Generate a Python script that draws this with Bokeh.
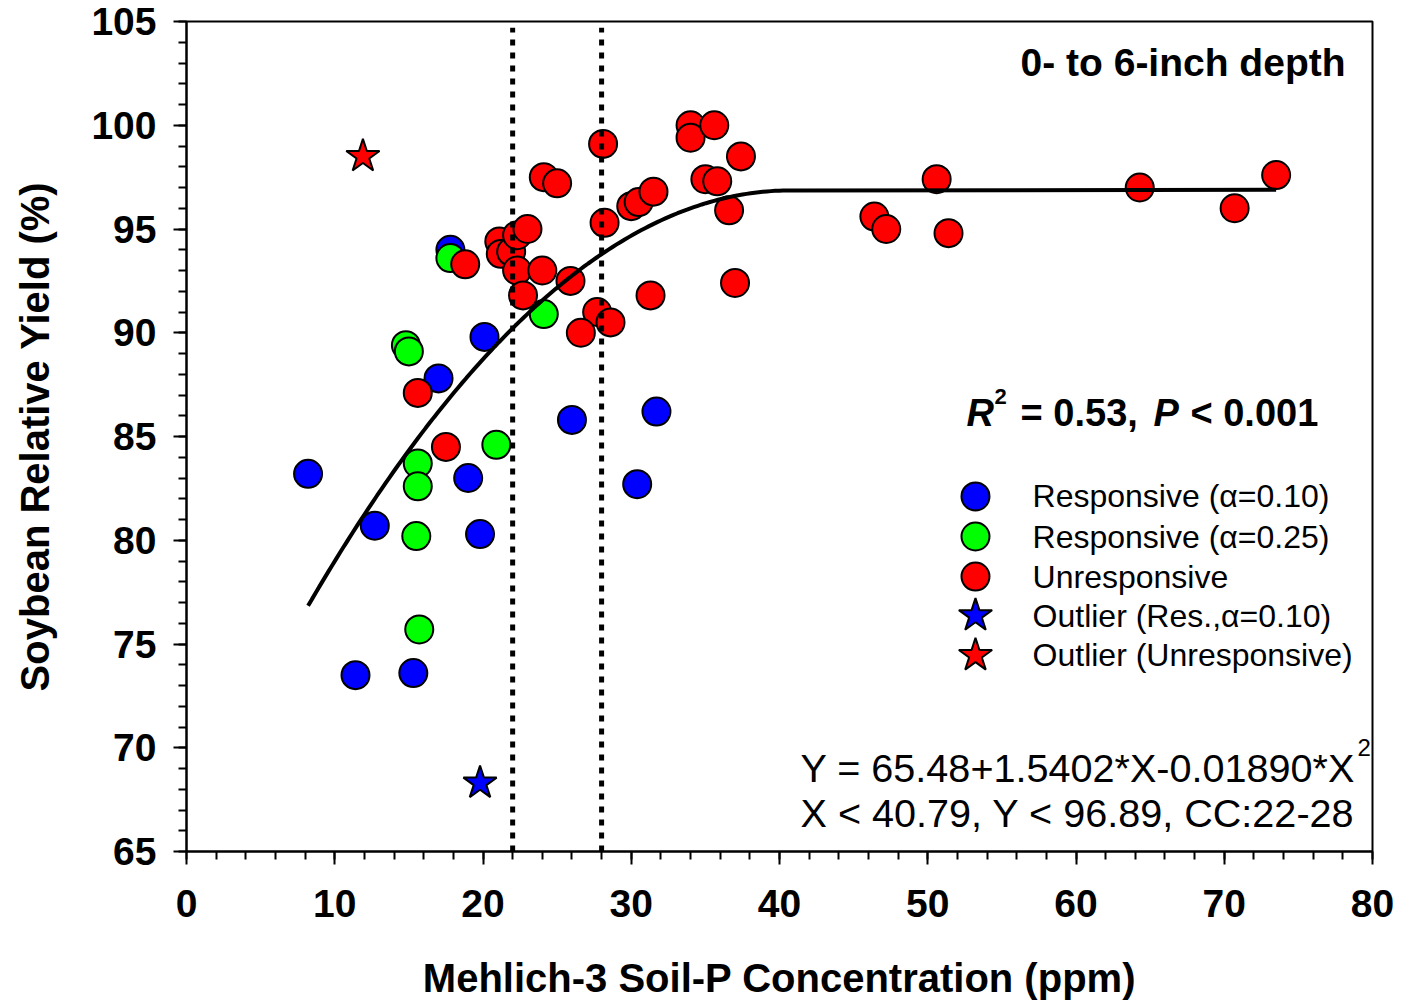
import numpy as np
from bokeh.plotting import figure
from bokeh.models import Range1d, FixedTicker
from bokeh.core.properties import value
from bokeh.embed import file_html
from bokeh.resources import INLINE

# ---------------- data ----------------
blue_x = [8.2, 11.4, 12.7, 15.3, 17.0, 17.8, 19.0, 19.8, 20.1, 26.0, 30.4, 31.7]
blue_y = [83.2, 73.5, 80.7, 73.6, 87.8, 94.0, 83.0, 80.3, 89.8, 85.8, 82.7, 86.2]

green_x = [14.8, 15.0, 15.6, 15.6, 15.5, 15.7, 17.8, 20.9, 24.1]
green_y = [89.4, 89.1, 83.7, 82.6, 80.2, 75.7, 93.6, 84.6, 90.9]

red_x = [15.6, 17.5, 18.8, 21.1, 21.2, 21.9, 22.3, 23.0, 22.3, 24.0, 25.9, 22.7,
         27.7, 28.6, 26.6, 31.3, 28.2, 28.1, 24.1, 25.0, 34.0, 34.0, 35.6, 37.4,
         35.0, 35.8, 36.6, 37.0, 30.0, 30.5, 31.5, 46.4, 47.2, 50.6, 51.4, 64.3,
         70.7, 73.5]
red_y = [87.1, 84.5, 93.3, 94.4, 93.8, 93.9, 94.7, 95.0, 93.0, 93.0, 92.5, 91.8,
         91.0, 90.5, 90.0, 91.8, 95.3, 99.1, 97.5, 97.2, 100.0, 99.4, 100.0, 98.5,
         97.4, 97.3, 95.9, 92.4, 96.1, 96.3, 96.8, 95.6, 95.0, 97.4, 94.8, 97.0,
         96.0, 97.6]

outlier_blue_x = [19.8]
outlier_blue_y = [68.3]
outlier_red_x = [11.9]
outlier_red_y = [98.5]

# fitted quadratic-plateau model (as printed on the chart)
fit_a, fit_b, fit_c = 65.48, 1.5402, -0.01890
fit_join_x, fit_plateau_y = 40.79, 96.89
fit_x_min, fit_x_max = 8.2, 73.5
critical_range = [22, 28]

x_ticks = [0, 10, 20, 30, 40, 50, 60, 70, 80]
y_ticks = [65, 70, 75, 80, 85, 90, 95, 100, 105]

legend_labels = ["Responsive (\u03b1=0.10)", "Responsive (\u03b1=0.25)", "Unresponsive",
                 "Outlier (Res.,\u03b1=0.10)", "Outlier (Unresponsive)"]

FONT = "Liberation Sans"

p = figure(width=1411, height=1004, output_backend="svg", toolbar_location=None,
           x_range=Range1d(0, 80), y_range=Range1d(65, 105),
           min_border_left=186, min_border_right=39, min_border_top=21, min_border_bottom=153)
p.background_fill_color = "white"
p.border_fill_color = "white"
p.xgrid.visible = False
p.ygrid.visible = False
p.outline_line_color = "black"
p.outline_line_width = 2

p.xaxis.ticker = FixedTicker(ticks=x_ticks, minor_ticks=list(range(0, 81, 2)))
p.yaxis.ticker = FixedTicker(ticks=y_ticks, minor_ticks=list(range(65, 106, 1)))
for ax in (p.xaxis, p.yaxis):
    ax.axis_line_width = 2
    ax.axis_line_color = "black"
    ax.major_tick_line_width = 2
    ax.minor_tick_line_width = 2
    ax.major_tick_out = 13
    ax.major_tick_in = 0
    ax.minor_tick_out = 8
    ax.minor_tick_in = 0
    ax.major_label_text_font = FONT
    ax.major_label_text_font_style = "bold"
    ax.major_label_text_font_size = "39px"
    ax.major_label_text_color = "black"
    ax.axis_label_text_font = FONT
    ax.axis_label_text_font_style = "bold"
    ax.axis_label_text_font_size = "40px"
    ax.axis_label_text_color = "black"

p.xaxis.axis_label = "Mehlich-3 Soil-P Concentration (ppm)"
p.yaxis.axis_label = "Soybean Relative Yield (%)"
p.xaxis.major_label_standoff = 25
p.yaxis.major_label_standoff = 17
p.xaxis.axis_label_standoff = 36
p.yaxis.axis_label_standoff = 31

# ---------------- points ----------------
MS = 28
p.scatter(blue_x, blue_y, marker="circle", size=MS, fill_color="#0000ff", line_color="black", line_width=2)
p.scatter(green_x, green_y, marker="circle", size=MS, fill_color="#00ff00", line_color="black", line_width=2)
p.scatter(red_x, red_y, marker="circle", size=MS, fill_color="#ff0000", line_color="black", line_width=2)
p.scatter(outlier_blue_x, outlier_blue_y, marker="star", size=35, fill_color="#0000ff", line_color="black", line_width=2)
p.scatter(outlier_red_x, outlier_red_y, marker="star", size=35, fill_color="#ff0000", line_color="black", line_width=2)

# ---------------- fitted curve ----------------
xc = np.linspace(fit_x_min, fit_join_x, 120)
yc = fit_a + fit_b * xc + fit_c * xc ** 2
xs = list(xc) + [fit_x_max]
ys = list(yc) + [fit_plateau_y]
p.line(xs, ys, line_color="black", line_width=4)

# ---------------- critical range lines ----------------
for cc in critical_range:
    p.line([cc, cc], [65, 104.7], line_color="black", line_width=5, line_dash="6 7", line_cap="butt")

# ---------------- annotations ----------------
def txt(x, y, s, size, style="normal", align="left", baseline="alphabetic"):
    p.text(x=[x], y=[y], text=[s], text_font=value(FONT), text_font_size=size,
           text_font_style=style, text_align=align, text_baseline=baseline, text_color="black")

txt(78.18, 103.02, "0- to 6-inch depth", "39px", "bold", align="right")

# R^2 = 0.53, P < 0.001
txt(52.61, 86.15, "R", "38px", "bold italic")
txt(54.50, 86.95, "2", "22px", "bold")
txt(56.26, 86.15, "= 0.53,", "38px", "bold")
txt(65.23, 86.15, "P", "38px", "bold italic")
txt(67.72, 86.15, "< 0.001", "38px", "bold")

# equation
txt(41.42, 69.04, "Y = 65.48+1.5402*X-0.01890*X", "39.6px")
txt(78.99, 70.00, "2", "24px")
txt(41.42, 66.87, "X < 40.79, Y < 96.89, CC:22-28", "39.6px")

# legend (manual)
leg_x_marker = 53.22
leg_x_text = 57.07
leg_rows = [82.11, 80.18, 78.25, 76.37, 74.45]
leg_marker = ["circle", "circle", "circle", "star", "star"]
leg_color = ["#0000ff", "#00ff00", "#ff0000", "#0000ff", "#ff0000"]
leg_size = [MS, MS, MS, 35, 35]
for yy, mk, col, sz, lab in zip(leg_rows, leg_marker, leg_color, leg_size, legend_labels):
    p.scatter([leg_x_marker], [yy], marker=mk, size=sz, fill_color=col, line_color="black", line_width=2)
    txt(leg_x_text, yy, lab, "32px", baseline="middle")

open("out.html", "w").write(file_html(p, INLINE))
